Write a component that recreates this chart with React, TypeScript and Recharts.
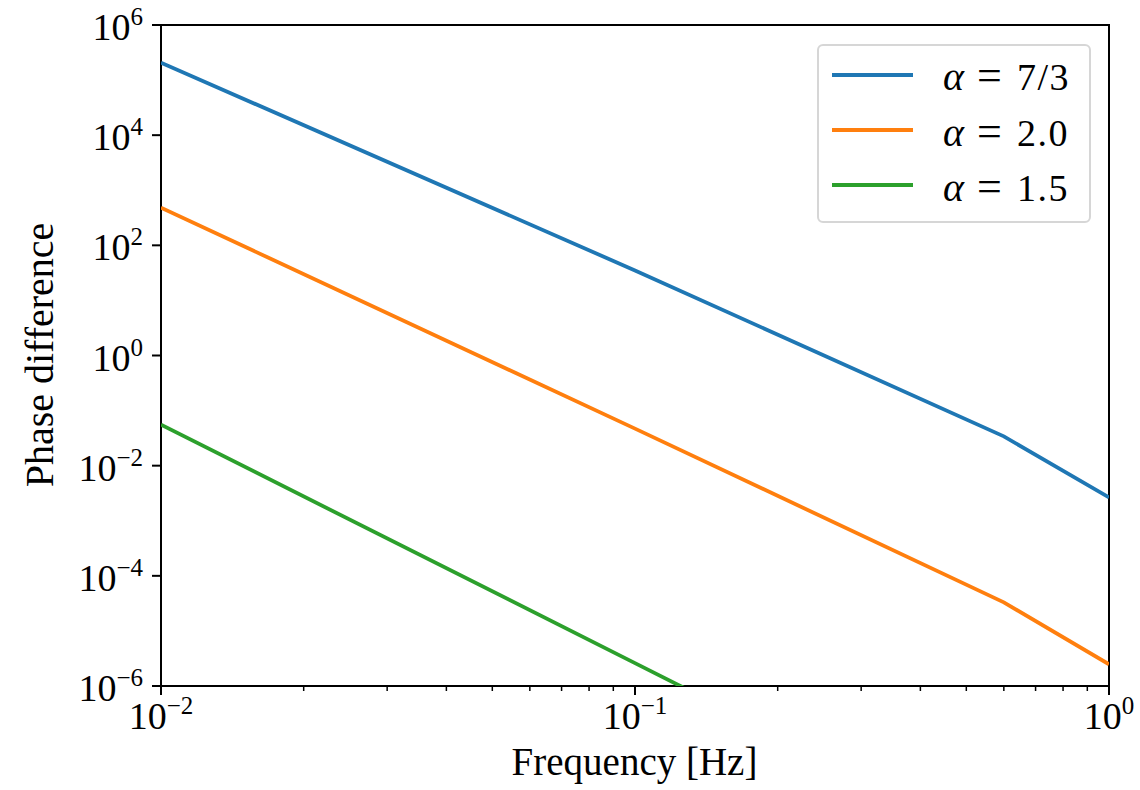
import React from "react";
import { LineChart, Line, XAxis, YAxis, Legend, ReferenceArea } from "recharts";

const FONT = "'Liberation Serif', 'Times New Roman', serif";

// Data (log-log)
const frequency = [0.01, 0.1, 0.6, 1];
const phaseAlpha73 = [2.07e5, 35, 0.034, 0.00265];
const phaseAlpha20 = [484, 0.047, 3.3e-5, 2.48e-6];
const phaseAlpha15 = [0.0556, 2.6e-6, 1.1e-9, 8e-11];

const seriesKeys = ["a73", "a20", "a15"];
const seriesAlphaValues = ["7/3", "2.0", "1.5"];
const seriesColors = ["#1f77b4", "#ff7f0e", "#2ca02c"];

// Ticks
const xMajorTicks = [0.01, 0.1, 1];
const xMajorExponents = ["\u22122", "\u22121", "0"];
const xMinorTicks = [
  0.02, 0.03, 0.04, 0.05, 0.06, 0.07, 0.08, 0.09,
  0.2, 0.3, 0.4, 0.5, 0.6, 0.7, 0.8, 0.9,
];
const yTicks = [1e-6, 1e-4, 1e-2, 1, 1e2, 1e4, 1e6];
const yExponents = ["\u22126", "\u22124", "\u22122", "0", "2", "4", "6"];

const data = frequency.map((f, i) => ({
  f,
  a73: phaseAlpha73[i],
  a20: phaseAlpha20[i],
  a15: phaseAlpha15[i],
}));

const allXTicks = [...xMajorTicks, ...xMinorTicks].sort((a, b) => a - b);

const findIdx = (arr: number[], v: number) =>
  arr.findIndex((t) => Math.abs(t - v) / t < 1e-9);

const XTick = (props: any) => {
  const { x, y, payload } = props;
  const idx = findIdx(xMajorTicks, payload.value);
  const major = idx >= 0;
  return (
    <g>
      <line
        x1={x}
        x2={x}
        y1={y}
        y2={y + (major ? 9 : 5)}
        stroke="#000"
        strokeWidth={major ? 2 : 1.5}
      />
      {major && (
        <text
          x={x}
          y={y + 43}
          textAnchor="middle"
          fontFamily={FONT}
          fontSize={38}
          fill="#000"
        >
          10
          <tspan dy={-15} fontSize={25}>
            {xMajorExponents[idx]}
          </tspan>
        </text>
      )}
    </g>
  );
};

const YTick = (props: any) => {
  const { x, y, payload } = props;
  const idx = findIdx(yTicks, payload.value);
  return (
    <g>
      <line x1={x - 9} x2={x} y1={y} y2={y} stroke="#000" strokeWidth={2} />
      <text
        x={x - 18}
        y={y + 15}
        textAnchor="end"
        fontFamily={FONT}
        fontSize={38}
        fill="#000"
      >
        10
        <tspan dy={-15} fontSize={25}>
          {idx >= 0 ? yExponents[idx] : ""}
        </tspan>
      </text>
    </g>
  );
};

const XTitle = () => (
  <text
    x={634.5}
    y={775}
    textAnchor="middle"
    fontFamily={FONT}
    fontSize={39}
    fill="#000"
  >
    Frequency [Hz]
  </text>
);

const YTitle = () => (
  <text
    transform="translate(53, 355) rotate(-90)"
    textAnchor="middle"
    fontFamily={FONT}
    fontSize={40}
    fill="#000"
  >
    Phase difference
  </text>
);

const LegendBox = () => (
  <svg width={276} height={182} style={{ display: "block" }}>
    <rect
      x={1}
      y={1}
      width={272}
      height={177}
      rx={5}
      ry={5}
      fill="#fff"
      fillOpacity={0.8}
      stroke="#d6d6d6"
      strokeWidth={2}
    />
    {seriesAlphaValues.map((v, i) => (
      <g key={v}>
        <line
          x1={15}
          x2={96}
          y1={31 + i * 55}
          y2={31 + i * 55}
          stroke={seriesColors[i]}
          strokeWidth={3.8}
        />
        <text
          x={126}
          y={46 + i * 55.5}
          fontFamily={FONT}
          fontSize={38}
          fill="#000"
        >
          <tspan fontStyle="italic" fontSize={40}>α</tspan>
          <tspan x={160} fontSize={44}>=</tspan>
          <tspan x={200} letterSpacing={1.5}>{v}</tspan>
        </text>
      </g>
    ))}
  </svg>
);

export default function App() {
  return (
    <div
      style={{
        position: "absolute",
        left: 0,
        top: 0,
        width: 1140,
        height: 790,
        background: "#fff",
      }}
    >
      <LineChart
        width={1140}
        height={790}
        data={data}
        margin={{ top: 25, right: 31, bottom: 0, left: 0 }}
      >
        <XAxis
          dataKey="f"
          type="number"
          scale="log"
          domain={[0.01, 1]}
          allowDataOverflow
          ticks={allXTicks}
          interval={0}
          tickSize={0}
          tickMargin={0}
          axisLine={false}
          tickLine={false}
          tick={<XTick />}
          height={104}
          label={<XTitle />}
        />
        <YAxis
          type="number"
          scale="log"
          domain={[1e-6, 1e6]}
          allowDataOverflow
          ticks={yTicks}
          interval={0}
          tickSize={0}
          tickMargin={0}
          axisLine={false}
          tickLine={false}
          tick={<YTick />}
          width={161}
          label={<YTitle />}
        />
        {seriesKeys.map((k, i) => (
          <Line
            key={k}
            dataKey={k}
            type="linear"
            stroke={seriesColors[i]}
            strokeWidth={3.8}
            dot={false}
            activeDot={false}
            isAnimationActive={false}
          />
        ))}
        <ReferenceArea
          x1={0.01}
          x2={1}
          y1={1e-6}
          y2={1e6}
          fill="none"
          fillOpacity={0}
          stroke="#000"
          strokeWidth={2}
          ifOverflow="visible"
        />
        <Legend
          layout="vertical"
          align="center"
          verticalAlign="middle"
          content={() => <LegendBox />}
          wrapperStyle={{ left: 817, top: 44, width: 276, height: 182 }}
        />
      </LineChart>
    </div>
  );
}
